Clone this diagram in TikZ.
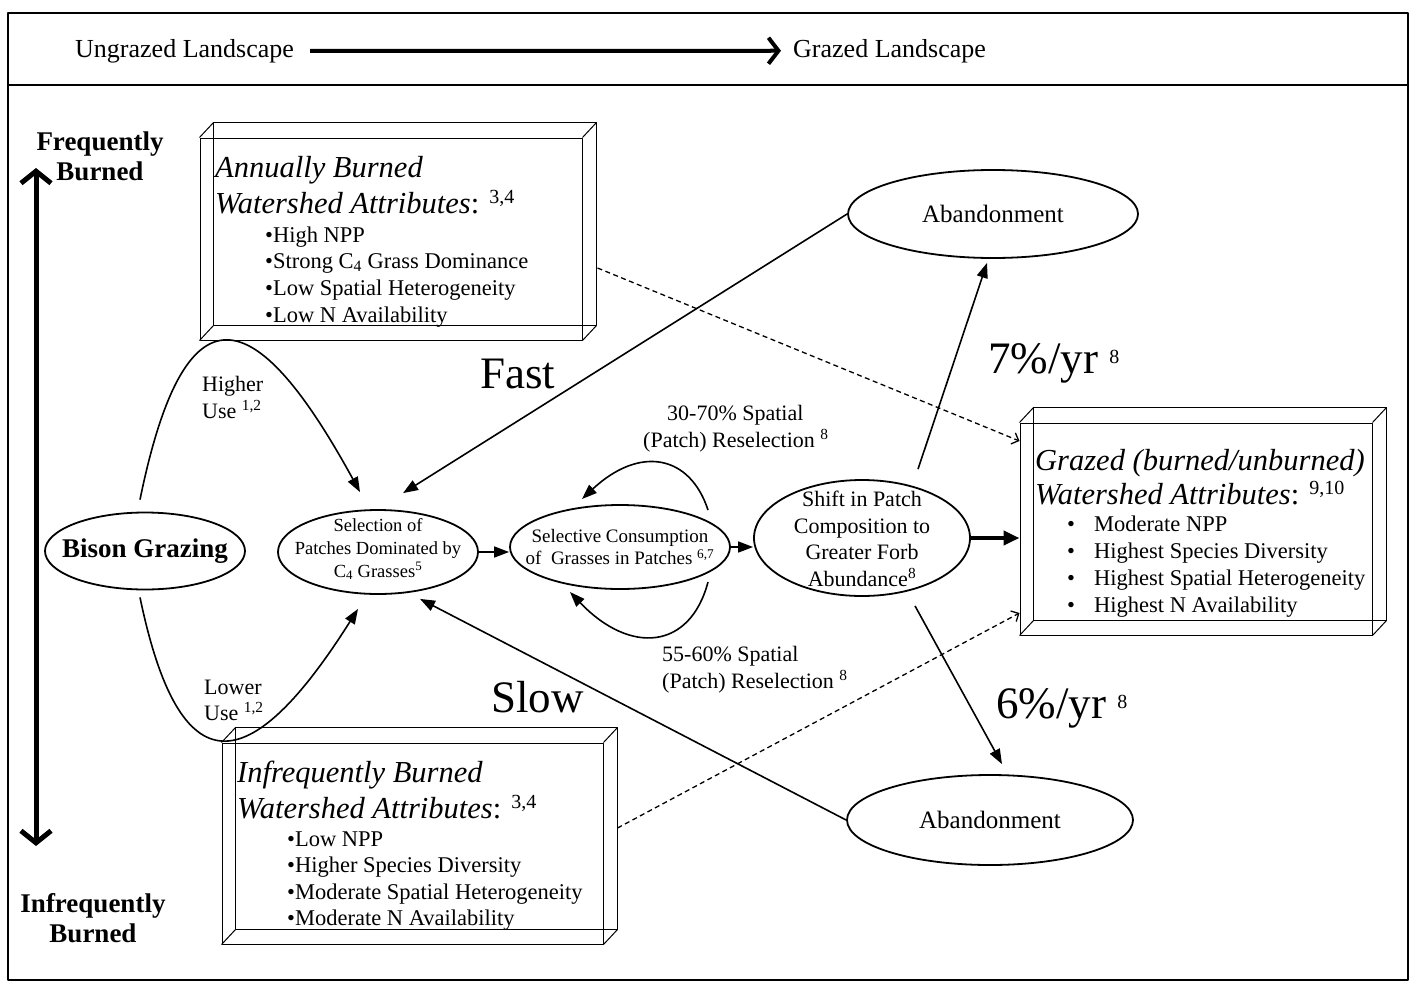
\documentclass[tikz,border=0pt]{standalone}
\usepackage{fontspec}
\setmainfont{Liberation Serif}
\usetikzlibrary{arrows.meta,shapes.geometric,calc}
\newcommand\fsz[2]{\fontsize{#1}{#2}\selectfont}
\newcommand\bevbox[1]{%
  \draw[boxline] ([shift={(14,-15)}]#1.north west) rectangle ([shift={(14,-15)}]#1.south east);
  \foreach \c in {north west,north east,south west,south east}{\draw[boxline] (#1.\c) -- ([shift={(14,-15)}]#1.\c);}}
\newcommand\hsup[1]{\textsuperscript{\upshape\fsz{20}{24}#1}}
\begin{document}
\begin{tikzpicture}[x=1pt,y=-1pt,line join=round,
  ell/.style={draw, ellipse, line width=1.8pt, inner sep=0pt},
  conn/.style={line width=1.6pt, -{Triangle[length=15pt,width=11pt]}},
  dasharrow/.style={line width=1.3pt, dash pattern=on 5pt off 3.5pt, -{Straight Barb[length=6pt,width=12pt]}},
  boxline/.style={line width=1pt},
  box/.style={draw, boxline, inner sep=0pt},
  txt/.style={inner sep=0pt, anchor=base west},
  ctxt/.style={inner sep=0pt, align=center},
  head/.style={txt, font=\fsz{30.5}{34}\itshape},
  item/.style={txt, font=\fsz{22.5}{26}},
  mid/.style={txt, font=\fsz{22}{26}},
  big/.style={txt, font=\fsz{45}{50}}]
\useasboundingbox (0,0) rectangle (1415,985);
% frame
\draw[line width=1.6pt] (8,13) rectangle (1408,980);
\draw[line width=1.6pt] (8,85) -- (1408,85);
% header
\node[txt, font=\fsz{26}{30}] (ung) at (75,57) {Ungrazed Landscape};
\node[txt, font=\fsz{26}{30}] (graz) at (793,57) {Grazed Landscape};
\draw[line width=4pt, shorten <=16pt, shorten >=12pt, -{Straight Barb[length=10pt,width=26pt]}] (ung.east) -- (graz.west);
% vertical axis
\node[ctxt, font=\fsz{27}{30}\bfseries] (fb) at (100,156) {Frequently\\Burned};
\node[ctxt, font=\fsz{27}{30}\bfseries] (ib) at (93,918) {Infrequently\\Burned};
\coordinate (vt) at (36,168);
\coordinate (vb) at (36,846);
\draw[line width=5pt, {Straight Barb[length=12pt,width=30pt]}-{Straight Barb[length=12pt,width=30pt]}] (vt) -- (vb);
% boxes
\node[box, minimum width=382, minimum height=202] (ann) at (391,239) {};
\bevbox{ann}
\node[box, minimum width=381, minimum height=201] (inf) at (412.5,843.5) {};
\bevbox{inf}
\node[box, minimum width=352, minimum height=212] (gr) at (1196,529) {};
\bevbox{gr}
% annually text
\node[head] at (215,177) {Annually Burned};
\node[head] at (215,213) {Watershed Attributes\textup{:} \hsup{3,4}};
\node[item] at (265,242) {\textbullet High NPP};
\node[item] at (265,268) {\textbullet Strong C\textsubscript{4} Grass Dominance};
\node[item] at (265,295) {\textbullet Low Spatial Heterogeneity};
\node[item] at (265,322) {\textbullet Low N Availability};
% infrequently text
\node[head] at (237,782) {Infrequently Burned};
\node[head] at (237,818) {Watershed Attributes\textup{:} \hsup{3,4}};
\node[item] at (287,846) {\textbullet Low NPP};
\node[item] at (287,872) {\textbullet Higher Species Diversity};
\node[item] at (287,899) {\textbullet Moderate Spatial Heterogeneity};
\node[item] at (287,925) {\textbullet Moderate N Availability};
% grazed text
\node[head] at (1035,470) {Grazed (burned/unburned)};
\node[head] at (1035,504) {Watershed Attributes\textup{:} \hsup{9,10}};
\foreach \y/\t in {531/Moderate NPP, 558/Highest Species Diversity, 585/Highest Spatial Heterogeneity, 612/Highest N Availability}{
  \node[item] at (1067,\y) {\textbullet};
  \node[item] at (1094,\y) {\t};
}
% ellipses
\node[ell, minimum width=200, minimum height=77] (bison) at (145,551) {};
\node[ctxt, font=\fsz{27}{30}\bfseries] at (bison) {Bison Grazing};
\node[ell, minimum width=200, minimum height=84] (sel) at (378,552) {};
\node[ctxt, font=\fsz{18.5}{23}] at (378,549) {Selection of\\Patches Dominated by\\C\textsubscript{4} Grasses\textsuperscript{5}};
\node[ell, minimum width=220, minimum height=84] (selc) at (620,547) {};
\node[ctxt, font=\fsz{19}{22}] at (620,547) {Selective Consumption\\of~ Grasses in Patches \textsuperscript{6,7}};
\node[ell, minimum width=216, minimum height=116] (shift) at (862,538) {};
\node[ctxt, font=\fsz{22}{26.5}] at (862,539) {Shift in Patch\\Composition to\\Greater Forb\\Abundance\textsuperscript{8}};
\node[ell, minimum width=290, minimum height=88] (abT) at (993,214) {};
\node[ctxt, font=\fsz{25}{30}] at (abT) {Abandonment};
\node[ell, minimum width=286, minimum height=90] (abB) at (990,820) {};
\node[ctxt, font=\fsz{25}{30}] at (abB) {Abandonment};
% labels
\node[mid] at (202,391) {Higher};
\node[mid] at (202,418) {Use \textsuperscript{1,2}};
\node[mid] at (204,694) {Lower};
\node[mid] at (204,720) {Use \textsuperscript{1,2}};
\node[big] at (480,388) {Fast};
\node[big] at (491,712) {Slow};
\node[big] at (988,373) {7\%/yr \textsuperscript{\fsz{20}{24}8}};
\node[big] at (996,718) {6\%/yr \textsuperscript{\fsz{20}{24}8}};
\node[mid] at (667,420) {30-70\% Spatial};
\node[mid] at (643,447) {(Patch) Reselection \textsuperscript{8}};
\node[mid] at (662,661) {55-60\% Spatial};
\node[mid] at (662,688) {(Patch) Reselection \textsuperscript{8}};
% connectors
\draw[conn] ([shift={(-5,-12)}]bison.north) .. controls (185,280) and (255,300) .. ([shift={(-18,-17)}]sel.north);
\draw[conn] ([shift={(-5,7)}]bison.south) .. controls (180,790) and (250,780) .. ([shift={(-20,14)}]sel.south);
\draw[conn] (abT.west) -- ([shift={(25,-16)}]sel.north);
\draw[conn] (abB.west) -- ([shift={(42,4)}]sel.south);
\draw[conn] (sel.east) -- (sel.east -| selc.west);
\draw[conn] (selc.east) -- (selc.east -| shift.west);
\draw[conn] ([shift={(88,-37)}]selc.center) .. controls (690,455) and (640,445) .. ([shift={(-38,-48)}]selc.center);
\draw[conn] ([shift={(88,35)}]selc.center) .. controls (690,650) and (630,655) .. ([shift={(-50,45)}]selc.center);
\draw[conn] ([shift={(56,-10)}]shift.north) -- ([shift={(-6,4)}]abT.south);
\draw[conn] ([shift={(53,9)}]shift.south) -- ([shift={(12,-10)}]abB.north);
\draw[line width=4pt, -{Triangle[length=16pt,width=14pt]}] (shift.east) -- (shift.east -| gr.west);
\draw[dasharrow] ([shift={(15,29)}]ann.east) -- ([shift={(0,-88)}]gr.west);
\draw[dasharrow] ([shift={(14,-15.5)}]inf.east) -- ([shift={(0,84)}]gr.west);
\end{tikzpicture}
\end{document}
